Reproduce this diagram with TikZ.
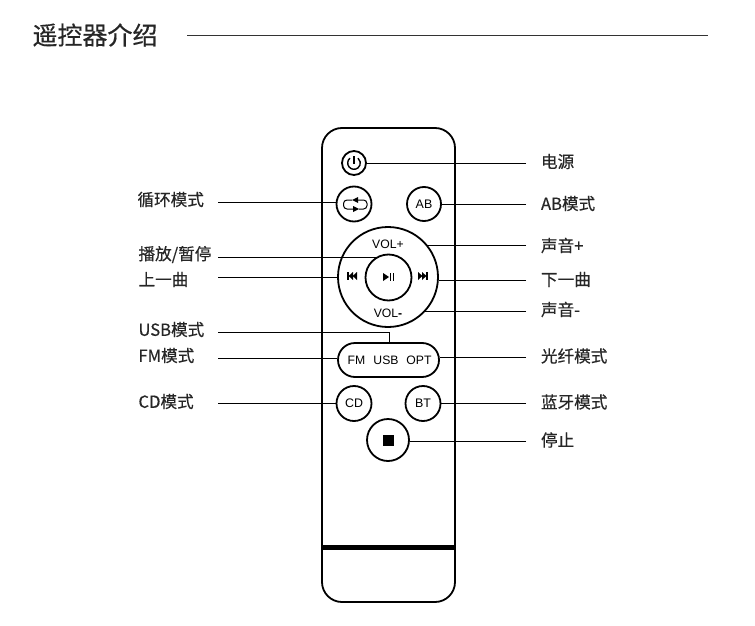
\documentclass[tikz,border=0pt]{standalone}
\usepackage{fontspec}
\newfontfamily\cjk[RawFeature={embolden=0.5}]{Noto Sans CJK SC}
\setmainfont{Liberation Sans}
\usetikzlibrary{shapes.misc}
\begin{document}
\begin{tikzpicture}[x=1pt, y=-1pt, line width=1pt,
			lbl/.style={font=\cjk\fontsize{16.6}{18}\selectfont, anchor=west, inner sep=0pt, text=black!85},
			btn/.style={draw, circle, line width=1.8pt, inner sep=0pt, font=\fontsize{12.4}{14}\selectfont},
			keytxt/.style={font=\fontsize{12.2}{14}\selectfont, inner sep=0pt}]

		\useasboundingbox (0,0) rectangle (755,626);

		% title
		\node[lbl, font=\cjk\fontsize{25}{30}\selectfont] (title) at (32,35) {遥控器介绍};
		\coordinate (rulestart) at (187,36);
		\coordinate (ruleend) at (708,36);
		\draw[line width=1pt, black!80] (rulestart) -- (ruleend);

		% remote body
		\draw[line width=1.8pt, rounded corners=20pt] (322,128) rectangle (455,602);
		\fill (322,545) rectangle (455,549.5);

		% buttons
		\node[btn, minimum size=24pt] (power) at (354,163) {};
		\node[btn, minimum size=35pt] (rep) at (354,204) {};
		\node[btn, minimum size=34pt] (ab) at (424,204) {AB};
		\node[btn, minimum size=100pt] (wheel) at (388,277) {};
		\node[btn, minimum size=46pt] (play) at (388.5,277.5) {};
		\node[draw, line width=1.8pt, rounded rectangle, minimum width=101pt, minimum height=34pt, inner sep=0pt] (mode) at (388.5,360) {};
		\node[btn, minimum size=35pt] (cd) at (354,403.5) {CD};
		\node[btn, minimum size=35pt] (bt) at (423,403.5) {BT};
		\node[btn, minimum size=42pt] (stop) at (388,440) {};

		\node[keytxt] (volup) at (388,244) {VOL+};
		\node[keytxt] (voldn) at (388,313) {VOL\textbf{-}};
		\node[keytxt] (fm) at (356.5,360) {FM};
		\node[keytxt] (usb) at (386,360) {USB};
		\node[keytxt] (opt) at (419,360) {OPT};

		% icons
		\draw[line width=1.4pt] (349.95,158.17) arc (-130:-410:6.3);
		\draw[line width=1.4pt] (354,156) -- (354,163.5);
		\fill (383,435) rectangle (394,446);
		\draw[line width=1pt, rounded corners=3.5pt] (352,200) -- (343.5,200) -- (343.5,209) -- (353,209);
		\draw[line width=1pt, rounded corners=3.5pt] (358,200) -- (367,200) -- (367,209) -- (359,209);
		\fill (352,200) -- (358,197) -- (358,203) -- cycle;
		\fill (359,209) -- (353,206) -- (353,212) -- cycle;
		% previous
		\fill (347,272) rectangle (348.6,280);
		\fill (348.6,276) -- (353,272) -- (353,280) -- cycle;
		\fill (352.6,276) -- (357,272) -- (357,280) -- cycle;
		% next
		\fill (426.4,272) rectangle (428,280);
		\fill (426.4,276) -- (422,272) -- (422,280) -- cycle;
		\fill (422.4,276) -- (418,272) -- (418,280) -- cycle;
		% play, pause
		\fill (383,273) -- (389,277) -- (383,281) -- cycle;
		\fill (390,273) rectangle (391.2,281);
		\fill (392.8,273) rectangle (394,281);

		% labels on the left
		\node[lbl] (lrep) at (137,199.5) {循环模式};
		\node[lbl] (lplay) at (138,254.5) {播放/暂停};
		\node[lbl] (lprev) at (138,279.5) {上一曲};
		\node[lbl] (lusb) at (138,329.5) {USB模式};
		\node[lbl] (lfm) at (138,355.5) {FM模式};
		\node[lbl] (lcd) at (138,401.5) {CD模式};

		% labels on the right
		\node[lbl] (rpower) at (540.5,161.5) {电源};
		\node[lbl] (rab) at (540.5,203.5) {AB模式};
		\node[lbl] (rup) at (540.5,245.5) {声音+};
		\node[lbl] (rnext) at (540.5,279.5) {下一曲};
		\node[lbl] (rdn) at (540.5,309.5) {声音-};
		\node[lbl] (ropt) at (540.5,356) {光纤模式};
		\node[lbl] (rbt) at (540.5,402) {蓝牙模式};
		\node[lbl] (rstop) at (540.5,440) {停止};

		% connectors
		\foreach \name/\yy in {rep/202, play/257, prev/277, usb/332, fm/358, cd/403}{
			\coordinate (a\name) at (218,\yy);
		}
		\foreach \name/\yy in {power/163, ab/204, up/245, next/280, dn/311, opt/357, bt/403, stop/441}{
			\coordinate (b\name) at (526,\yy);
		}
		\coordinate (usbturn) at (389,332);

		\draw (arep) -- (arep -| rep.west);
		\draw (aplay) -- (aplay -| play.117);
		\draw (aprev) -- (aprev -| wheel.west);
		\draw (ausb) -- (usbturn) -- (usbturn |- mode.north);
		\draw (afm) -- (afm -| mode.west);
		\draw (acd) -- (acd -| cd.west);

		\draw (bpower) -- (bpower -| power.east);
		\draw (bab) -- (bab -| ab.east);
		\draw (bup) -- (bup -| wheel.40);
		\draw (bnext) -- (bnext -| wheel.east);
		\draw (bdn) -- (bdn -| wheel.-43);
		\draw (bopt) -- (bopt -| mode.east);
		\draw (bbt) -- (bbt -| bt.east);
		\draw (bstop) -- (bstop -| stop.east);
	\end{tikzpicture}
\end{document}
